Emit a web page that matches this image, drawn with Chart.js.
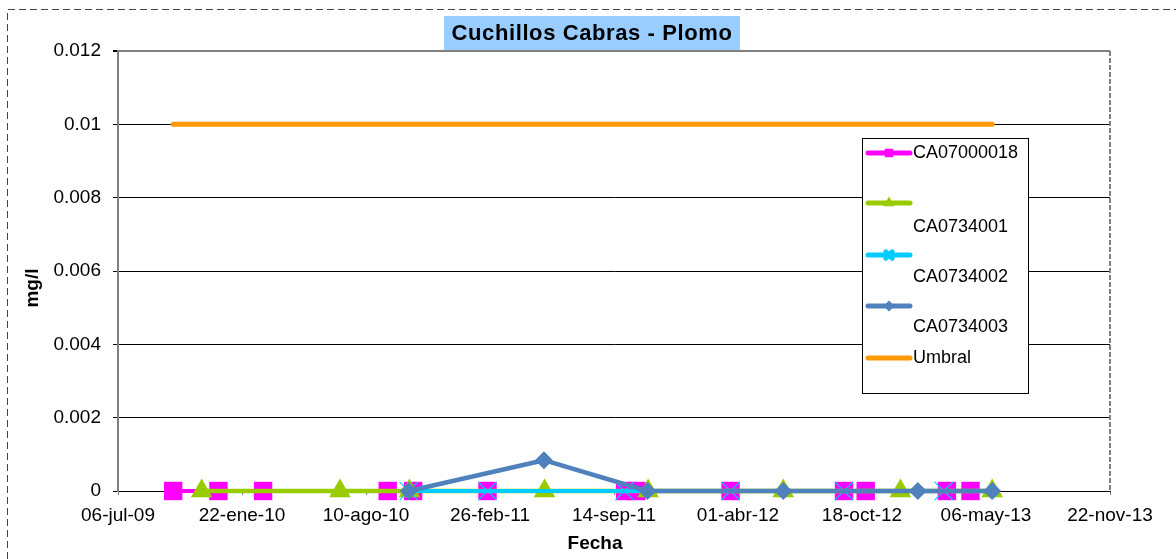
<!DOCTYPE html>
<html><head><meta charset="utf-8">
<script src="https://cdn.jsdelivr.net/npm/chart.js@4/dist/chart.umd.min.js"></script>
<style>html,body{margin:0;padding:0;background:#fff;overflow:hidden}#wrap{width:1176px;height:559px;position:relative}</style>
</head><body><div id="wrap"><canvas id="c" width="1176" height="559"></canvas></div>
<script>
// ---- data ----
const chartTitle = 'Cuchillos Cabras - Plomo';
const xAxisTitle = 'Fecha';
const yAxisTitle = 'mg/l';
const xTickLabels = ['06-jul-09','22-ene-10','10-ago-10','26-feb-11','14-sep-11','01-abr-12','18-oct-12','06-may-13','22-nov-13'];
const yTickLabels = ['0','0.002','0.004','0.006','0.008','0.01','0.012'];
const seriesNames = ['CA07000018','CA0734001','CA0734002','CA0734003','Umbral'];

const ca07000018Dates = ['2009-10-03','2009-12-15','2010-02-25','2010-09-14','2010-10-25','2011-02-22','2011-10-02','2011-10-20','2012-03-20','2012-09-19','2012-10-24','2013-03-04','2013-04-11'];
const ca07000018Values = [0,0,0,0,0,0,0,0,0,0,0,0,0];

const ca0734001Dates = ['2009-11-18','2010-06-29','2010-10-19','2011-05-25','2011-11-08','2012-06-13','2012-12-19','2013-05-16'];
const ca0734001Values = [0,0,0,0,0,0,0,0];

const ca0734002Dates = ['2010-10-18','2011-02-22','2011-10-01','2012-03-20','2012-09-19','2013-02-27'];
const ca0734002Values = [0,0,0,0,0,0];

const ca0734003Dates = ['2010-10-18','2011-05-24','2011-11-07','2012-06-13','2013-01-16','2013-05-16'];
const ca0734003Values = [0,0.00084,0,0,0,0];

const umbralDates = ['2009-10-03','2013-05-16'];
const umbralValues = [0.01,0.01];

const xAxisStart = '2009-07-06';
const xAxisEnd = '2013-11-22';
const xStepDays = 200;
const yMin = 0, yMax = 0.012, yStep = 0.002;

// ---- helpers ----
function serial(d){ const p=d.split('-').map(Number); return (Date.UTC(p[0],p[1]-1,p[2])-Date.UTC(1899,11,30))/86400000; }
function pts(dates, vals){ return dates.map((d,i)=>({x:serial(d), y:vals[i]})); }

const FONT = "'Liberation Sans', Arial, sans-serif";
const colors = ['#FF00FF','#99CC00','#00CCFF','#4F81BD','#FF9900'];

const datasets = [
  {label:seriesNames[0], data:pts(ca07000018Dates,ca07000018Values), borderColor:colors[0], backgroundColor:colors[0], borderWidth:4, pointStyle:'rect', pointRadius:13, pointBorderWidth:0, order:5},
  {label:seriesNames[1], data:pts(ca0734001Dates,ca0734001Values), borderColor:colors[1], backgroundColor:colors[1], borderWidth:4.5, pointStyle:'triangle', pointRadius:12.5, pointBorderWidth:0, order:4},
  {label:seriesNames[2], data:pts(ca0734002Dates,ca0734002Values), borderColor:colors[2], backgroundColor:colors[2], borderWidth:4, pointStyle:'crossRot', pointRadius:13, pointBorderWidth:1.2, order:3},
  {label:seriesNames[3], data:pts(ca0734003Dates,ca0734003Values), borderColor:colors[3], backgroundColor:colors[3], borderWidth:4.5, pointStyle:'rectRot', pointRadius:9, pointBorderWidth:0, order:2},
  {label:seriesNames[4], data:pts(umbralDates,umbralValues), borderColor:colors[4], backgroundColor:colors[4], borderWidth:5, pointRadius:0, order:1}
];
datasets.forEach(d=>{ d.borderCapStyle='round'; d.borderJoinStyle='round'; d.tension=0; d.clip=false; d.pointHoverRadius=d.pointRadius; });

const legendStyle = {
  box:{x:862, y:138, w:166, h:255},
  lineX0:868, lineX1:910, markerX:889, textX:913,
  lineY:[153,203,255,306,358], textY:[153,227,277,327,358],
  markerRadius:[6,6.5,4.5,5.5,0], markerBorder:[0,0,1,0,0]
};

const decor = {
  id:'decor',
  beforeDraw(chart){
    const ctx = chart.ctx;
    ctx.save();
    ctx.fillStyle='#fff'; ctx.fillRect(0,0,chart.width,chart.height);
    ctx.strokeStyle='#444'; ctx.lineWidth=1; ctx.setLineDash([7,4]);
    ctx.beginPath(); ctx.moveTo(7.5,chart.height); ctx.lineTo(7.5,9.5); ctx.lineTo(chart.width,9.5); ctx.stroke();
    ctx.restore();
  },
  afterDraw(chart){
    const ctx = chart.ctx, a = chart.chartArea;
    ctx.save();
    // right dashed border of plot area
    ctx.strokeStyle='#808080'; ctx.lineWidth=2; ctx.setLineDash([5,2]);
    ctx.beginPath(); ctx.moveTo(a.right, a.top); ctx.lineTo(a.right, a.bottom); ctx.stroke();
    ctx.setLineDash([]);
    // title
    ctx.fillStyle='#99CCFF'; ctx.fillRect(444,16,296,34);
    ctx.fillStyle='#000'; ctx.font='bold 22px '+FONT; ctx.textAlign='center'; ctx.textBaseline='middle';
    if ('letterSpacing' in ctx) ctx.letterSpacing='0.6px';
    ctx.fillText(chartTitle, 592, 34);
    if ('letterSpacing' in ctx) ctx.letterSpacing='0px';
    // axis titles
    ctx.font='bold 19px '+FONT;
    ctx.fillText(xAxisTitle, 595, 544);
    ctx.save(); ctx.translate(33,288); ctx.rotate(-Math.PI/2); ctx.fillText(yAxisTitle,0,0); ctx.restore();
    // legend
    const L = legendStyle;
    ctx.fillStyle='#fff'; ctx.fillRect(L.box.x,L.box.y,L.box.w,L.box.h);
    ctx.strokeStyle='#000'; ctx.lineWidth=1; ctx.strokeRect(L.box.x+0.5,L.box.y+0.5,L.box.w,L.box.h);
    chart.data.datasets.forEach((ds,i)=>{
      ctx.strokeStyle=ds.borderColor; ctx.lineWidth=5; ctx.lineCap='round';
      ctx.beginPath(); ctx.moveTo(L.lineX0,L.lineY[i]); ctx.lineTo(L.lineX1,L.lineY[i]); ctx.stroke();
      if (L.markerRadius[i]>0){
        ctx.fillStyle=ds.backgroundColor; ctx.strokeStyle=ds.borderColor;
        Chart.helpers.drawPoint(ctx,{pointStyle:ds.pointStyle, radius:L.markerRadius[i], rotation:0, borderWidth:L.markerBorder[i]}, L.markerX, L.lineY[i]);
      }
      ctx.fillStyle='#000'; ctx.font='18px '+FONT; ctx.textAlign='left'; ctx.textBaseline='middle';
      ctx.fillText(ds.label, L.textX, L.textY[i]);
    });
    ctx.restore();
  }
};

new Chart(document.getElementById('c'), {
  type:'line',
  data:{datasets},
  options:{
    responsive:false, animation:false, events:[],
    layout:{padding:{left:0,right:66,top:51,bottom:28}},
    plugins:{legend:{display:false}, tooltip:{enabled:false}, title:{display:false}},
    scales:{
      x:{type:'linear', min:serial(xAxisStart), max:serial(xAxisEnd),
        afterFit(s){ s.height=40; },
        ticks:{stepSize:xStepDays, autoSkip:false, maxRotation:0, padding:9, color:'#000', font:{family:FONT,size:19},
          callback:(v,i)=>xTickLabels[i]},
        grid:{drawOnChartArea:false, drawTicks:true, tickLength:4, tickColor:'#808080'},
        border:{display:true, color:'#000', width:1}
      },
      y:{min:yMin, max:yMax,
        afterFit(s){ s.width=118; },
        ticks:{stepSize:yStep, padding:12, color:'#000', font:{family:FONT,size:19},
          callback:(v,i)=>yTickLabels[i]},
        grid:{color:c=>c.index===6?'#808080':'#000', lineWidth:c=>c.index===6?2:1, drawTicks:true, tickLength:5, tickColor:'#000'},
        border:{display:true, color:'#808080', width:2}
      }
    }
  },
  plugins:[decor]
});
</script></body></html>
